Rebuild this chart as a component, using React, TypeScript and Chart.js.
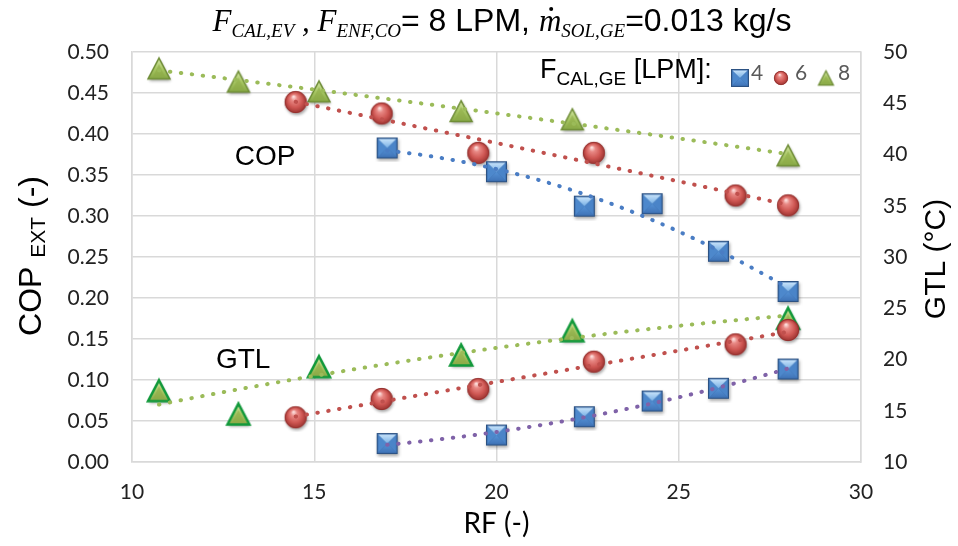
import React, { useEffect, useRef } from 'react';
import { Chart, registerables } from 'chart.js';
Chart.register(...registerables);

// ---- Data ----
const rfTicks = [10, 15, 20, 25, 30];
const copTicks = [0, 0.05, 0.1, 0.15, 0.2, 0.25, 0.3, 0.35, 0.4, 0.45, 0.5];
const gtlTicks = [10, 15, 20, 25, 30, 35, 40, 45, 50];

const legendTitle = 'F';
const legendSub = 'CAL,GE';
const legendRest = ' [LPM]:';
const flowLabels = ['4', '6', '8'];

const rf4 = [17.0, 20.0, 22.41, 24.27, 26.09, 28.0];
const rf6 = [14.49, 16.85, 19.5, 22.67, 26.56, 28.0];
const rf8 = [10.74, 12.92, 15.13, 19.03, 22.08, 28.0];

const cop4 = [0.383, 0.354, 0.312, 0.315, 0.257, 0.208];
const cop6 = [0.439, 0.425, 0.377, 0.377, 0.325, 0.313];
const cop8 = [0.48, 0.464, 0.452, 0.428, 0.418, 0.374];

const gtl4 = [11.8, 12.63, 14.42, 15.95, 17.19, 19.07];
const gtl6 = [14.36, 16.15, 17.12, 19.79, 21.48, 22.88];
const gtl8 = [16.96, 14.68, 19.3, 20.44, 22.81, 24.02];

const annotations = [
  { text: 'COP', rf: 13.65, cop: 0.371 },
  { text: 'GTL', rf: 13.05, cop: 0.124 },
];

// ---- helpers ----
const SANS = '"Liberation Sans", Arial, sans-serif';
const SERIF = '"Liberation Serif", "Times New Roman", serif';
const TICKF = 'Lato, "Open Sans", sans-serif';

function quadFit(xs: number[], ys: number[]) {
  const n = xs.length;
  let s1 = 0, s2 = 0, s3 = 0, s4 = 0, t0 = 0, t1 = 0, t2 = 0;
  for (let i = 0; i < n; i++) {
    const x = xs[i], y = ys[i];
    s1 += x; s2 += x * x; s3 += x * x * x; s4 += x * x * x * x;
    t0 += y; t1 += x * y; t2 += x * x * y;
  }
  const M = [
    [s4, s3, s2, t2],
    [s3, s2, s1, t1],
    [s2, s1, n, t0],
  ];
  for (let c = 0; c < 3; c++) {
    let p = c;
    for (let r = c + 1; r < 3; r++) if (Math.abs(M[r][c]) > Math.abs(M[p][c])) p = r;
    [M[c], M[p]] = [M[p], M[c]];
    for (let r = 0; r < 3; r++) {
      if (r === c) continue;
      const f = M[r][c] / M[c][c];
      for (let k = c; k < 4; k++) M[r][k] -= f * M[c][k];
    }
  }
  const a = M[0][3] / M[0][0], b = M[1][3] / M[1][1], cc = M[2][3] / M[2][2];
  return (x: number) => a * x * x + b * x + cc;
}

function trend(xs: number[], ys: number[]) {
  const f = quadFit(xs, ys);
  const lo = Math.min(...xs), hi = Math.max(...xs);
  const pts: { x: number; y: number }[] = [];
  const N = 40;
  for (let i = 0; i <= N; i++) {
    const x = lo + ((hi - lo) * i) / N;
    pts.push({ x, y: f(x) });
  }
  return pts;
}

function mkCanvas(w: number, h: number) {
  const c = document.createElement('canvas');
  c.width = w; c.height = h;
  return c;
}

function squareMarker(s: number, shadow = true) {
  const pad = 4, W = s + pad * 2;
  const c = mkCanvas(W, W);
  const ctx = c.getContext('2d')!;
  const x0 = pad, y0 = pad, x1 = pad + s, y1 = pad + s, cx = W / 2, cy = W / 2;
  ctx.save();
  if (shadow) {
    ctx.shadowColor = 'rgba(0,0,0,0.35)'; ctx.shadowBlur = 3; ctx.shadowOffsetX = 1; ctx.shadowOffsetY = 2;
  }
  ctx.fillStyle = '#3a6aa8';
  ctx.fillRect(x0, y0, s, s);
  ctx.restore();
  const i = 1.5;
  const poly = (pts: number[][], fill: string | CanvasGradient) => {
    ctx.beginPath();
    ctx.moveTo(pts[0][0], pts[0][1]);
    for (let k = 1; k < pts.length; k++) ctx.lineTo(pts[k][0], pts[k][1]);
    ctx.closePath();
    ctx.fillStyle = fill;
    ctx.fill();
  };
  const gTop = ctx.createLinearGradient(0, y0, 0, cy);
  gTop.addColorStop(0, '#d4ebfd');
  gTop.addColorStop(1, '#78b0e6');
  const gBot = ctx.createLinearGradient(0, cy, 0, y1);
  gBot.addColorStop(0, '#5592d6');
  gBot.addColorStop(1, '#3d70b4');
  poly([[x0 + i, y0 + i], [cx, cy], [x0 + i, y1 - i]], '#4d88cc');
  poly([[x1 - i, y0 + i], [cx, cy], [x1 - i, y1 - i]], '#4a84c8');
  poly([[x0 + i, y1 - i], [cx, cy], [x1 - i, y1 - i]], gBot);
  poly([[x0 + i, y0 + i], [x1 - i, y0 + i], [cx, cy]], gTop);
  ctx.strokeStyle = '#2c5283';
  ctx.lineWidth = 1;
  ctx.strokeRect(x0 + 0.5, y0 + 0.5, s - 1, s - 1);
  return c;
}

function sphereMarker(d: number, shadow = true) {
  const pad = 4, W = d + pad * 2;
  const c = mkCanvas(W, W);
  const ctx = c.getContext('2d')!;
  const cx = W / 2, cy = W / 2, r = d / 2;
  ctx.save();
  if (shadow) {
    ctx.shadowColor = 'rgba(0,0,0,0.35)'; ctx.shadowBlur = 3; ctx.shadowOffsetX = 1; ctx.shadowOffsetY = 2;
  }
  ctx.beginPath();
  ctx.arc(cx, cy, r, 0, Math.PI * 2);
  ctx.fillStyle = '#b8423f';
  ctx.fill();
  ctx.restore();
  const g = ctx.createRadialGradient(cx - r * 0.2, cy - r * 0.5, r * 0.05, cx, cy, r);
  g.addColorStop(0, '#fde0de');
  g.addColorStop(0.25, '#e88884');
  g.addColorStop(0.65, '#cf5753');
  g.addColorStop(1, '#9c3330');
  ctx.beginPath();
  ctx.arc(cx, cy, r - 0.3, 0, Math.PI * 2);
  ctx.fillStyle = g;
  ctx.fill();
  ctx.strokeStyle = 'rgba(130,40,38,0.7)';
  ctx.lineWidth = 0.8;
  ctx.stroke();
  return c;
}

function triMarker(s: number, border: string, lw: number, shadow = true) {
  const pad = 5, W = s + pad * 2;
  const c = mkCanvas(W, W);
  const ctx = c.getContext('2d')!;
  const x0 = pad, x1 = pad + s, cx = W / 2;
  const h = s * 0.95;
  const yTop = W / 2 - h / 2, yBot = W / 2 + h / 2;
  const path = () => {
    ctx.beginPath();
    ctx.moveTo(cx, yTop);
    ctx.lineTo(x1, yBot);
    ctx.lineTo(x0, yBot);
    ctx.closePath();
  };
  ctx.save();
  if (shadow) {
    ctx.shadowColor = 'rgba(0,0,0,0.35)'; ctx.shadowBlur = 3; ctx.shadowOffsetX = 1; ctx.shadowOffsetY = 2;
  }
  path();
  const g = ctx.createLinearGradient(0, yTop, 0, yBot);
  g.addColorStop(0, '#d6e8a8');
  g.addColorStop(0.5, '#a9c865');
  g.addColorStop(1, '#87a846');
  ctx.fillStyle = g;
  ctx.fill();
  ctx.restore();
  // inner bevel
  ctx.beginPath();
  ctx.moveTo(cx, yTop + h * 0.3);
  ctx.lineTo(cx + s * 0.28, yBot - 2);
  ctx.lineTo(cx - s * 0.28, yBot - 2);
  ctx.closePath();
  ctx.fillStyle = 'rgba(140,170,70,0.55)';
  ctx.fill();
  path();
  ctx.strokeStyle = border;
  ctx.lineWidth = lw;
  ctx.lineJoin = 'miter';
  ctx.stroke();
  return c;
}

function toPts(xs: number[], ys: number[]) {
  return xs.map((x, i) => ({ x, y: ys[i] }));
}

export default function App() {
  const ref = useRef<HTMLCanvasElement>(null);

  useEffect(() => {
    const canvas = ref.current!;
    const sq = squareMarker(21);
    const ci = sphereMarker(22);
    const trCop = triMarker(22, '#6e8c36', 1.5);
    const trGtl = triMarker(22, '#12993b', 2.5);
    const lgSq = squareMarker(18, false);
    const lgCi = sphereMarker(14, false);
    const lgTr = triMarker(15, '#6e8c36', 1.2, false);

    const dotDash = [0.5, 10.5];
    const trendDs = (xs: number[], ys: number[], color: string, axis: string) => ({
      data: trend(xs, ys),
      showLine: true,
      pointRadius: 0,
      borderColor: color,
      borderWidth: 4,
      borderDash: dotDash,
      borderCapStyle: 'round',
      yAxisID: axis,
      order: 0,
    });
    const markDs = (xs: number[], ys: number[], img: HTMLCanvasElement, axis: string) => ({
      data: toPts(xs, ys),
      showLine: false,
      pointStyle: img,
      pointRadius: 11,
      yAxisID: axis,
      order: 1,
    });

    const textPlugin = {
      id: 'texts',
      afterDraw(chart: any) {
        const ctx: CanvasRenderingContext2D = chart.ctx;
        const sx = chart.scales.x, sy = chart.scales.y;
        ctx.save();
        ctx.fillStyle = '#000';
        ctx.textBaseline = 'alphabetic';
        ctx.textAlign = 'left';

        // Title
        const big = `32px ${SANS}`;
        const it = `italic 31px ${SERIF}`;
        const sub = `italic 19px ${SERIF}`;
        const segs: { t: string; f: string; dy?: number; dot?: boolean }[] = [
          { t: 'F', f: it },
          { t: 'CAL,EV', f: sub, dy: 6 },
          { t: ' , ', f: it },
          { t: 'F', f: it },
          { t: 'ENF,CO', f: sub, dy: 6 },
          { t: '= 8 LPM, ', f: big },
          { t: 'm', f: it, dot: true },
          { t: 'SOL,GE', f: sub, dy: 6 },
          { t: '=0.013 kg/s', f: big },
        ];
        let total = 0;
        segs.forEach((s) => { ctx.font = s.f; total += ctx.measureText(s.t).width; });
        let x = 502 - total / 2;
        const by = 31;
        segs.forEach((s) => {
          ctx.font = s.f;
          const w = ctx.measureText(s.t).width;
          ctx.fillText(s.t, x, by + (s.dy || 0));
          if (s.dot) {
            ctx.beginPath();
            ctx.arc(x + w * 0.55, by - 22, 2, 0, Math.PI * 2);
            ctx.fill();
          }
          x += w;
        });

        // Annotations
        ctx.font = `28px ${SANS}`;
        ctx.textAlign = 'center';
        ctx.textBaseline = 'middle';
        annotations.forEach((a) => {
          ctx.fillText(a.text, sx.getPixelForValue(a.rf), sy.getPixelForValue(a.cop));
        });

        // X title
        ctx.font = `28px ${TICKF}`;
        ctx.textBaseline = 'alphabetic';
        ctx.fillText('RF (-)', (chart.chartArea.left + chart.chartArea.right) / 2, 533);

        // Left title (rotated)
        ctx.save();
        ctx.translate(41, 256);
        ctx.rotate(-Math.PI / 2);
        const lsegs = [
          { t: 'COP ', f: `32px ${SANS}`, dy: 0 },
          { t: 'EXT', f: `21px ${SANS}`, dy: 4 },
          { t: ' (-)', f: `32px ${SANS}`, dy: 0 },
        ];
        let lt = 0;
        lsegs.forEach((s) => { ctx.font = s.f; lt += ctx.measureText(s.t).width; });
        let lx = -lt / 2;
        ctx.textAlign = 'left';
        lsegs.forEach((s) => {
          ctx.font = s.f;
          ctx.fillText(s.t, lx, s.dy);
          lx += ctx.measureText(s.t).width;
        });
        ctx.restore();

        // Right title
        ctx.save();
        ctx.translate(945, 259);
        ctx.rotate(-Math.PI / 2);
        ctx.font = `30px ${SANS}`;
        ctx.textAlign = 'center';
        ctx.fillText('GTL (°C)', 0, 0);
        ctx.restore();

        // Legend
        ctx.textAlign = 'left';
        let gx = 540;
        const gy = 78;
        ctx.font = `27px ${SANS}`;
        ctx.fillText(legendTitle, gx, gy);
        gx += ctx.measureText(legendTitle).width;
        ctx.font = `19px ${SANS}`;
        ctx.fillText(legendSub, gx, gy + 7);
        gx += ctx.measureText(legendSub).width;
        ctx.font = `27px ${SANS}`;
        ctx.fillText(legendRest, gx, gy);
        const imgs = [lgSq, lgCi, lgTr];
        const centers = [740, 781, 826];
        const textX = [751, 795, 838];
        ctx.font = `21px ${TICKF}`;
        ctx.fillStyle = '#595959';
        imgs.forEach((im, k) => {
          ctx.drawImage(im, centers[k] - im.width / 2, 78 - im.height / 2);
          ctx.fillText(flowLabels[k], textX[k], 80);
        });
        ctx.restore();
      },
    };

    const gridColor = '#d9d9d9';
    const tickFont = { family: TICKF, size: 21 };

    const chart = new Chart(canvas, {
      type: 'scatter',
      data: {
        datasets: [
          trendDs(rf4, cop4, '#4a7dc4', 'y'),
          trendDs(rf6, cop6, '#c0504d', 'y'),
          trendDs(rf8, cop8, '#9bbb59', 'y'),
          trendDs(rf4, gtl4, '#7f62a8', 'y2'),
          trendDs(rf6, gtl6, '#c0504d', 'y2'),
          trendDs(rf8, gtl8, '#9bbb59', 'y2'),
          markDs(rf4, cop4, sq, 'y'),
          markDs(rf6, cop6, ci, 'y'),
          markDs(rf8, cop8, trCop, 'y'),
          markDs(rf4, gtl4, sq, 'y2'),
          markDs(rf6, gtl6, ci, 'y2'),
          markDs(rf8, gtl8, trGtl, 'y2'),
        ] as any,
      },
      options: {
        animation: false,
        responsive: false,
        events: [],
        layout: { padding: { top: 52, left: 0, right: 0, bottom: 0 } },
        plugins: { legend: { display: false }, tooltip: { enabled: false }, title: { display: false } },
        scales: {
          x: {
            type: 'linear',
            min: 10,
            max: 30,
            afterBuildTicks: (s: any) => { s.ticks = rfTicks.map((v) => ({ value: v })); },
            afterFit: (s: any) => { s.height = 84; },
            ticks: { font: tickFont, color: '#222', padding: 18 },
            grid: { color: gridColor, lineWidth: 1.5, drawTicks: false },
            border: { color: gridColor, width: 1.5 },
          },
          y: {
            type: 'linear',
            position: 'left',
            min: 0,
            max: 0.5,
            afterBuildTicks: (s: any) => { s.ticks = copTicks.map((v) => ({ value: v })); },
            afterFit: (s: any) => { s.width = 132; },
            ticks: { font: tickFont, color: '#222', padding: 23, callback: (v: any) => Number(v).toFixed(2) },
            grid: { color: gridColor, lineWidth: 1.5, drawTicks: false },
            border: { color: gridColor, width: 1.5 },
          },
          y2: {
            type: 'linear',
            position: 'right',
            min: 10,
            max: 50,
            afterBuildTicks: (s: any) => { s.ticks = gtlTicks.map((v) => ({ value: v })); },
            afterFit: (s: any) => { s.width = 97; },
            ticks: { font: tickFont, color: '#222', padding: 22 },
            grid: { drawOnChartArea: false, drawTicks: false },
            border: { color: gridColor, width: 1.5 },
          },
        },
      } as any,
      plugins: [textPlugin],
    });
    return () => chart.destroy();
  }, []);

  return (
    <div style={{ position: 'absolute', left: 0, top: 0, width: 958, height: 546, background: '#fff' }}>
      <canvas ref={ref} width={958} height={546} style={{ width: 958, height: 546, display: 'block' }} />
    </div>
  );
}
